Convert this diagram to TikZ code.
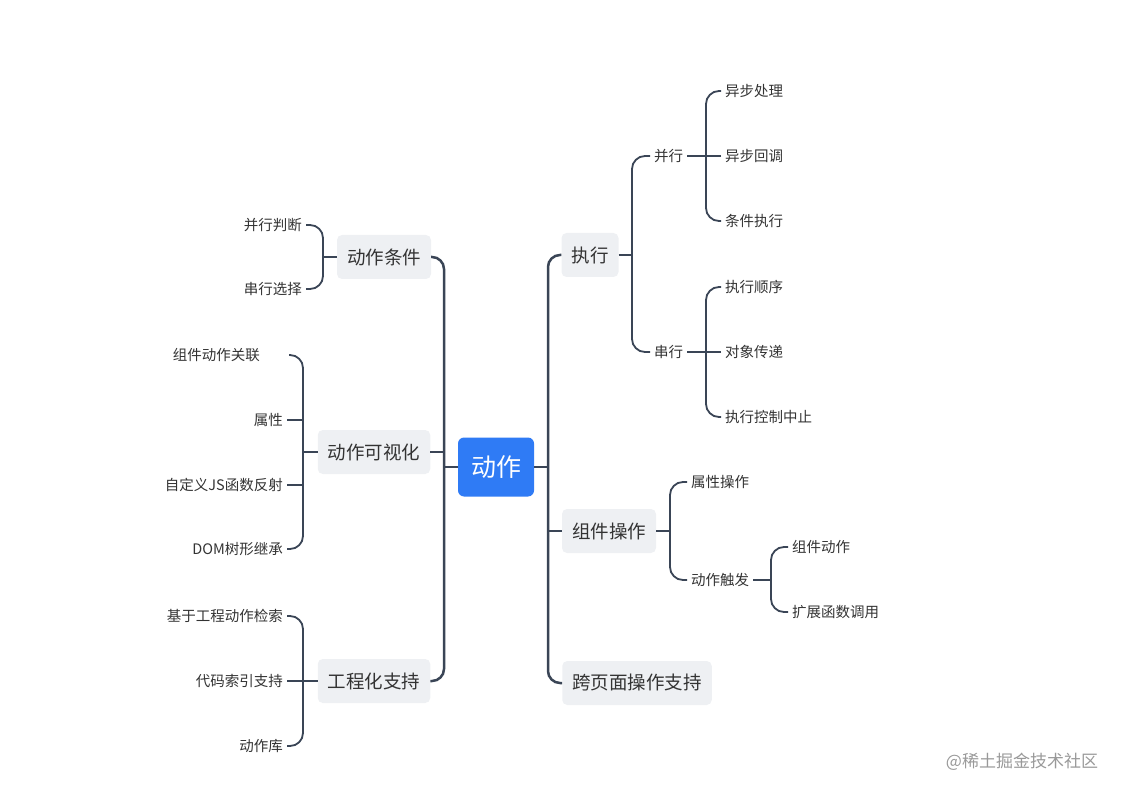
\documentclass[tikz,border=0pt]{standalone}
\usepackage{fontspec}
\setmainfont{Noto Sans CJK SC}
\usepackage{xcolor}
\usepackage{tikz}
\usetikzlibrary{positioning,calc}
\definecolor{rootblue}{HTML}{2F7BF5}
\definecolor{topicgray}{HTML}{EEF0F3}
\definecolor{linedark}{HTML}{3A4556}
\definecolor{txtdark}{HTML}{333333}

\begin{document}
\begin{tikzpicture}[x=1pt,y=-1pt,
  leaf/.style={inner sep=4pt,text=txtdark,font=\fontsize{14.5}{16}\selectfont},
  topic/.style={fill=topicgray,rounded corners=5pt,inner xsep=10pt,minimum height=44pt,text=txtdark,font=\fontsize{18.5}{20}\selectfont},
  root/.style={fill=rootblue,rounded corners=6pt,inner xsep=13pt,minimum height=59pt,text=white,font=\fontsize{25}{27}\selectfont},
  trunk/.style={draw=linedark,line width=2.5pt,rounded corners=12pt},
  br/.style={draw=linedark,line width=1.8pt,rounded corners=13pt}]
  \useasboundingbox (0,0) rectangle (1125,794);
  % centre and first level
  \node[root] (act) at (496,467) {动作};
  \node[topic] (cond) at (384,257) {动作条件};
  \node[topic] (vis) at (374,452) {动作可视化};
  \node[topic] (eng) at (374,681) {工程化支持};
  \node[topic] (exec) at (590,255) {执行};
  \node[topic] (comp) at (609,531) {组件操作};
  \node[topic] (page) at (637,683) {跨页面操作支持};
  \coordinate (lx) at (444,0);
  \coordinate (rx) at (548,0);
  \draw[trunk] (cond.east) -- (cond.east -| lx) -- (eng.east -| lx) -- (eng.east);
  \draw[trunk] (act.west) -- (act.west -| lx);  \draw[trunk] (vis.east) -- (vis.east -| lx);
  \draw[trunk] (exec.west) -- (exec.west -| rx) -- (page.west -| rx) -- (page.west);
  \draw[trunk] (act.east) -- (act.east -| rx);  \draw[trunk] (comp.west) -- (comp.west -| rx);

  % execution
  \node[leaf,anchor=west] (par) at (650,156) {并行};
  \node[leaf,anchor=west] (ser) at (650,352) {串行};
  \coordinate (bxa) at (632,0);
  \draw[br] (par.west) -- (par.west -| bxa) -- (ser.west -| bxa) -- (ser.west);
  \draw[br] (exec.east) -- (exec.east -| bxa);
  \node[leaf,anchor=west] (p1) at (721,91) {异步处理};
  \node[leaf,anchor=west] (p2) at (721,156) {异步回调};
  \node[leaf,anchor=west] (p3) at (721,221) {条件执行};
  \coordinate (bxb) at (706,0);
  \draw[br] (p1.west) -- (p1.west -| bxb) -- (p3.west -| bxb) -- (p3.west);
  \draw[br] (par.east) -- (par.east -| bxb);  \draw[br] (p2.west) -- (p2.west -| bxb);
  \node[leaf,anchor=west] (s1) at (721,287) {执行顺序};
  \node[leaf,anchor=west] (s2) at (721,352) {对象传递};
  \node[leaf,anchor=west] (s3) at (721,417) {执行控制中止};
  \draw[br] (s1.west) -- (s1.west -| bxb) -- (s3.west -| bxb) -- (s3.west);
  \draw[br] (ser.east) -- (ser.east -| bxb);  \draw[br] (s2.west) -- (s2.west -| bxb);

  % component operations
  \node[leaf,anchor=west] (attr) at (687,482) {属性操作};
  \node[leaf,anchor=west] (trig) at (687,580) {动作触发};
  \coordinate (bxc) at (670,0);
  \draw[br] (attr.west) -- (attr.west -| bxc) -- (trig.west -| bxc) -- (trig.west);
  \draw[br] (comp.east) -- (comp.east -| bxc);
  \node[leaf,anchor=west] (t1) at (788,547) {组件动作};
  \node[leaf,anchor=west] (t2) at (788,612) {扩展函数调用};
  \coordinate (bxd) at (771,0);
  \draw[br] (t1.west) -- (t1.west -| bxd) -- (t2.west -| bxd) -- (t2.west);
  \draw[br] (trig.east) -- (trig.east -| bxd);

  % left side
  \node[leaf,anchor=east] (c1) at (306,225) {并行判断};
  \node[leaf,anchor=east] (c2) at (306,289) {串行选择};
  \coordinate (bxe) at (323,0);
  \draw[br] (c1.east) -- (c1.east -| bxe) -- (c2.east -| bxe) -- (c2.east);
  \draw[br] (cond.west) -- (cond.west -| bxe);
  \node[leaf,anchor=east] (v1) at (264,355) {组件动作关联};
  \node[leaf,anchor=east] (v2) at (287,420) {属性};
  \node[leaf,anchor=east] (v3) at (287,485) {自定义JS函数反射};
  \node[leaf,anchor=east] (v4) at (287,549) {DOM树形继承};
  \coordinate (bxf) at (303,0);
  \draw[br] ([xshift=25pt]v1.east) -- (v1.east -| bxf) -- (v4.east -| bxf) -- (v4.east);
  \draw[br] (v2.east) -- (v2.east -| bxf);  \draw[br] (v3.east) -- (v3.east -| bxf);
  \draw[br] (vis.west) -- (vis.west -| bxf);
  \node[leaf,anchor=east] (e1) at (287,616) {基于工程动作检索};
  \node[leaf,anchor=east] (e2) at (287,681) {代码索引支持};
  \node[leaf,anchor=east] (e3) at (287,746) {动作库};
  \draw[br] (e1.east) -- (e1.east -| bxf) -- (e3.east -| bxf) -- (e3.east);
  \draw[br] (e2.east) -- (eng.west);

  \node[text=black!40,font=\fontsize{17}{19}\selectfont] (mark) at (1022,762) {@稀土掘金技术社区};
\end{tikzpicture}
\end{document}
